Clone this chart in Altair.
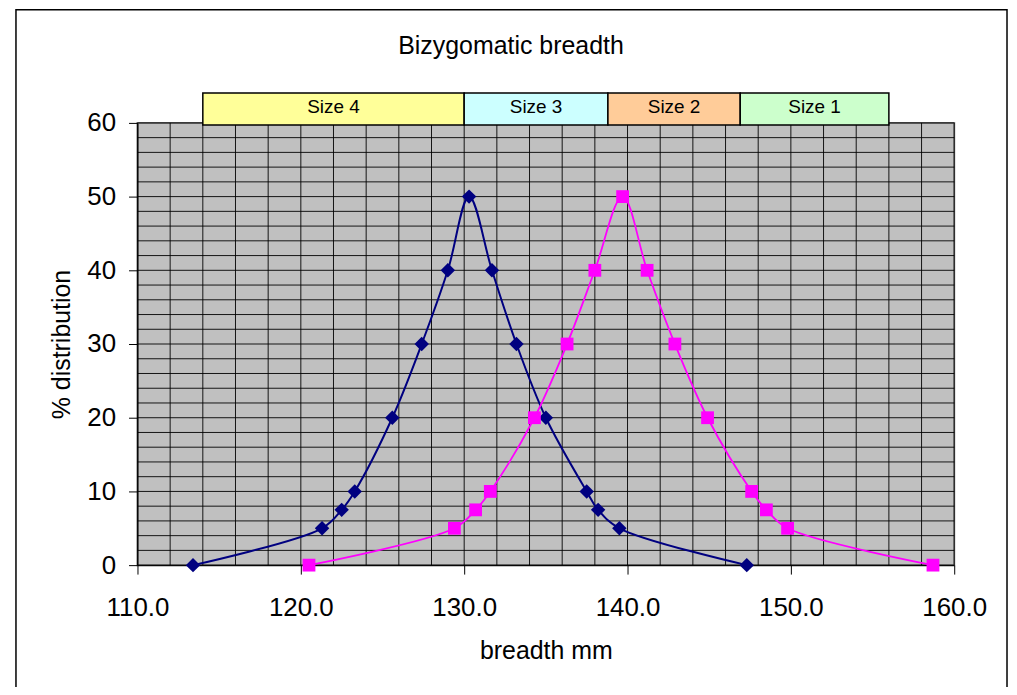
import altair as alt
import pandas as pd

# ---- data ----
pct = [0, 5, 7.5, 10, 20, 30, 40, 50, 40, 30, 20, 10, 7.5, 5, 0]
navy_x = [113.4, 121.3, 122.5, 123.3, 125.6, 127.4, 129.0, 130.3, 131.7, 133.2, 135.0, 137.5, 138.2, 139.5, 147.3]
mag_x = [120.5, 129.4, 130.7, 131.6, 134.3, 136.3, 138.0, 139.7, 141.2, 142.9, 144.9, 147.6, 148.5, 149.8, 158.7]

size_names = ["Size 4", "Size 3", "Size 2", "Size 1"]
size_start = [114.0, 130.0, 138.8, 146.9]
size_end = [130.0, 138.8, 146.9, 156.0]
size_colors = ["#FFFF99", "#CCFFFF", "#FFCC99", "#CCFFCC"]
box_bottom = 59.7
box_top = 64.05
box_label_y = 62.1

x_ticks = [110, 120, 130, 140, 150, 160]
y_ticks = [0, 10, 20, 30, 40, 50, 60]
x_grid = list(range(110, 161, 2))
y_grid = list(range(0, 61, 2))

FONT = "Liberation Sans"
W, H = 820, 444

xs = alt.Scale(domain=[110, 160], nice=False, zero=False)
ys = alt.Scale(domain=[0, 60], nice=False)

navy = pd.DataFrame({"x": navy_x, "y": pct})
mag = pd.DataFrame({"x": mag_x, "y": pct})
boxes = pd.DataFrame({"name": size_names, "x0": size_start, "x1": size_end,
                      "c": size_colors, "y0": [box_bottom] * 4, "y1": [box_top] * 4,
                      "ym": [box_label_y] * 4})
boxes["xm"] = (boxes["x0"] + boxes["x1"]) / 2

x_axis = alt.Axis(values=x_ticks, format=".1f", title="breadth mm", grid=False,
                  labelFontSize=26, titleFontSize=25, tickSize=9, labelPadding=21,
                  domainColor="#000000", tickColor="#000000", labelColor="#000000",
                  titleColor="#000000", titleFontWeight="normal",
                  titleY=86, titleBaseline="middle", labelFlush=False)
y_axis = alt.Axis(values=y_ticks, title="% distribution", grid=False,
                  labelFontSize=26, titleFontSize=25, tickSize=9, labelPadding=13,
                  domainColor="#000000", tickColor="#000000", labelColor="#000000",
                  titleColor="#000000", titleFontWeight="normal",
                  titleX=-76, titleY=H / 2, titleAngle=-90, titleBaseline="middle",
                  titleAlign="center")


def X(f):
    return alt.X(f, scale=xs, axis=x_axis)


def Y(f):
    return alt.Y(f, scale=ys, axis=y_axis)


vgrid = alt.Chart(pd.DataFrame({"g": x_grid})).mark_rule(
    color="#000000", strokeWidth=1, opacity=0.9
).encode(x=X("g:Q"))

hgrid = alt.Chart(pd.DataFrame({"g": y_grid})).mark_rule(
    color="#000000", strokeWidth=1, opacity=0.9
).encode(y=Y("g:Q"))

navy_line = alt.Chart(navy).mark_line(
    color="#000080", strokeWidth=2, interpolate="catmull-rom"
).encode(x=X("x:Q"), y=Y("y:Q"))
navy_pts = alt.Chart(navy).mark_point(
    shape="diamond", filled=True, color="#000080", size=210, opacity=1
).encode(x=X("x:Q"), y=Y("y:Q"))

mag_line = alt.Chart(mag).mark_line(
    color="#FF00FF", strokeWidth=1.8, interpolate="catmull-rom"
).encode(x=X("x:Q"), y=Y("y:Q"))
mag_pts = alt.Chart(mag).mark_point(
    shape="square", filled=True, color="#FF00FF", size=165, opacity=1
).encode(x=X("x:Q"), y=Y("y:Q"))

box_rects = alt.Chart(boxes).mark_rect(stroke="#000000", strokeWidth=1.5).encode(
    x=X("x0:Q"), x2="x1:Q",
    y=Y("y0:Q"), y2="y1:Q",
    fill=alt.Fill("c:N", scale=None),
)
box_text = alt.Chart(boxes).mark_text(
    font=FONT, fontSize=19, color="#000000", baseline="middle", align="center"
).encode(x=X("xm:Q"), y=Y("ym:Q"), text="name:N")

one = pd.DataFrame({"t": ["Bizygomatic breadth"]})
title = alt.Chart(one).mark_text(
    font=FONT, fontSize=25, color="#000000", baseline="middle", align="center"
).encode(x=alt.value(375), y=alt.value(-77), text="t:N")

frame = alt.Chart(one).mark_rect(
    fill="transparent", stroke="#000000", strokeWidth=1.5
).encode(x=alt.value(-122), x2=alt.value(873), y=alt.value(-113.5), y2=alt.value(640))

chart = alt.layer(
    frame, vgrid, hgrid, navy_line, mag_line, navy_pts, mag_pts, box_rects, box_text, title
).properties(
    width=W, height=H,
    autosize=alt.AutoSizeParams(type="none"),
    padding={"left": 130, "top": 114, "right": 55, "bottom": 121},
    background="#FFFFFF",
).configure_view(
    fill="#C0C0C0", stroke="#808080", strokeWidth=2
).configure_axis(
    labelFont=FONT, titleFont=FONT
)

chart.save("out.html", embed_options={"renderer": "svg", "actions": False})
